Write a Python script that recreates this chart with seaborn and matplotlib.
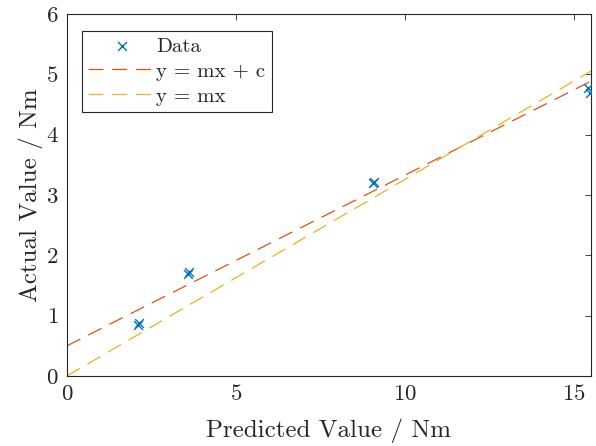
import matplotlib
matplotlib.use("Agg")
import matplotlib.pyplot as plt
import seaborn as sns
import numpy as np
import pandas as pd

# Data
pred = [2.10, 2.13, 3.58, 3.62, 9.05, 9.08, 15.42, 15.48]
actual = [0.85, 0.88, 1.69, 1.72, 3.20, 3.22, 4.78, 4.69]
fit_c_m, fit_c_c = 0.283, 0.50   # y = mx + c
fit_m = 0.326                    # y = mx
line_x = [0.0, 15.5]

sns.set_style("white")
plt.rcParams["font.family"] = "serif"
plt.rcParams["font.serif"] = ["cmr10"]
plt.rcParams["mathtext.fontset"] = "cm"
plt.rcParams["axes.formatter.use_mathtext"] = True

blue = "#0072BD"
orange = "#D95319"
yellow = "#EDB120"

fig = plt.figure(figsize=(5.96, 4.46), dpi=100)
ax = fig.add_axes([0.1124, 0.157, 0.8792, 0.8116])

df = pd.DataFrame({"x": pred, "y": actual})
sns.scatterplot(data=df, x="x", y="y", marker="x", color=blue, s=40,
                linewidth=1.0, ax=ax, label="Data", zorder=3)

lx = np.array(line_x)
sns.lineplot(x=lx, y=fit_c_m * lx + fit_c_c, color=orange, linewidth=0.9,
             ax=ax, label="y = mx + c")
sns.lineplot(x=lx, y=fit_m * lx, color=yellow, linewidth=0.9,
             ax=ax, label="y = mx")
for ln in ax.get_lines():
    ln.set_linestyle((0, (12, 7)))

ax.set_xlim(0, 15.5)
ax.set_ylim(0, 6)
ax.set_xticks([0, 5, 10, 15])
ax.set_yticks([0, 1, 2, 3, 4, 5, 6])
ax.tick_params(direction="in", length=4, width=0.6, top=True, right=True,
               labelsize=16.5, colors="#262626", pad=6)
for sp in ax.spines.values():
    sp.set_color("#262626")
    sp.set_linewidth(0.8)
ax.set_xlabel("Predicted Value / Nm", fontsize=18, color="#262626", labelpad=10)
ax.set_ylabel("Actual Value / Nm", fontsize=18, color="#262626", labelpad=2)

leg = ax.legend(loc="upper left", bbox_to_anchor=(0.029, 0.953), fontsize=15,
                frameon=True, fancybox=False, edgecolor="#262626",
                framealpha=1, borderpad=0.3, handlelength=3.2,
                handletextpad=0.05, labelspacing=0.3, borderaxespad=0)
leg.get_frame().set_linewidth(0.8)

fig.savefig("out.png", dpi=100)
